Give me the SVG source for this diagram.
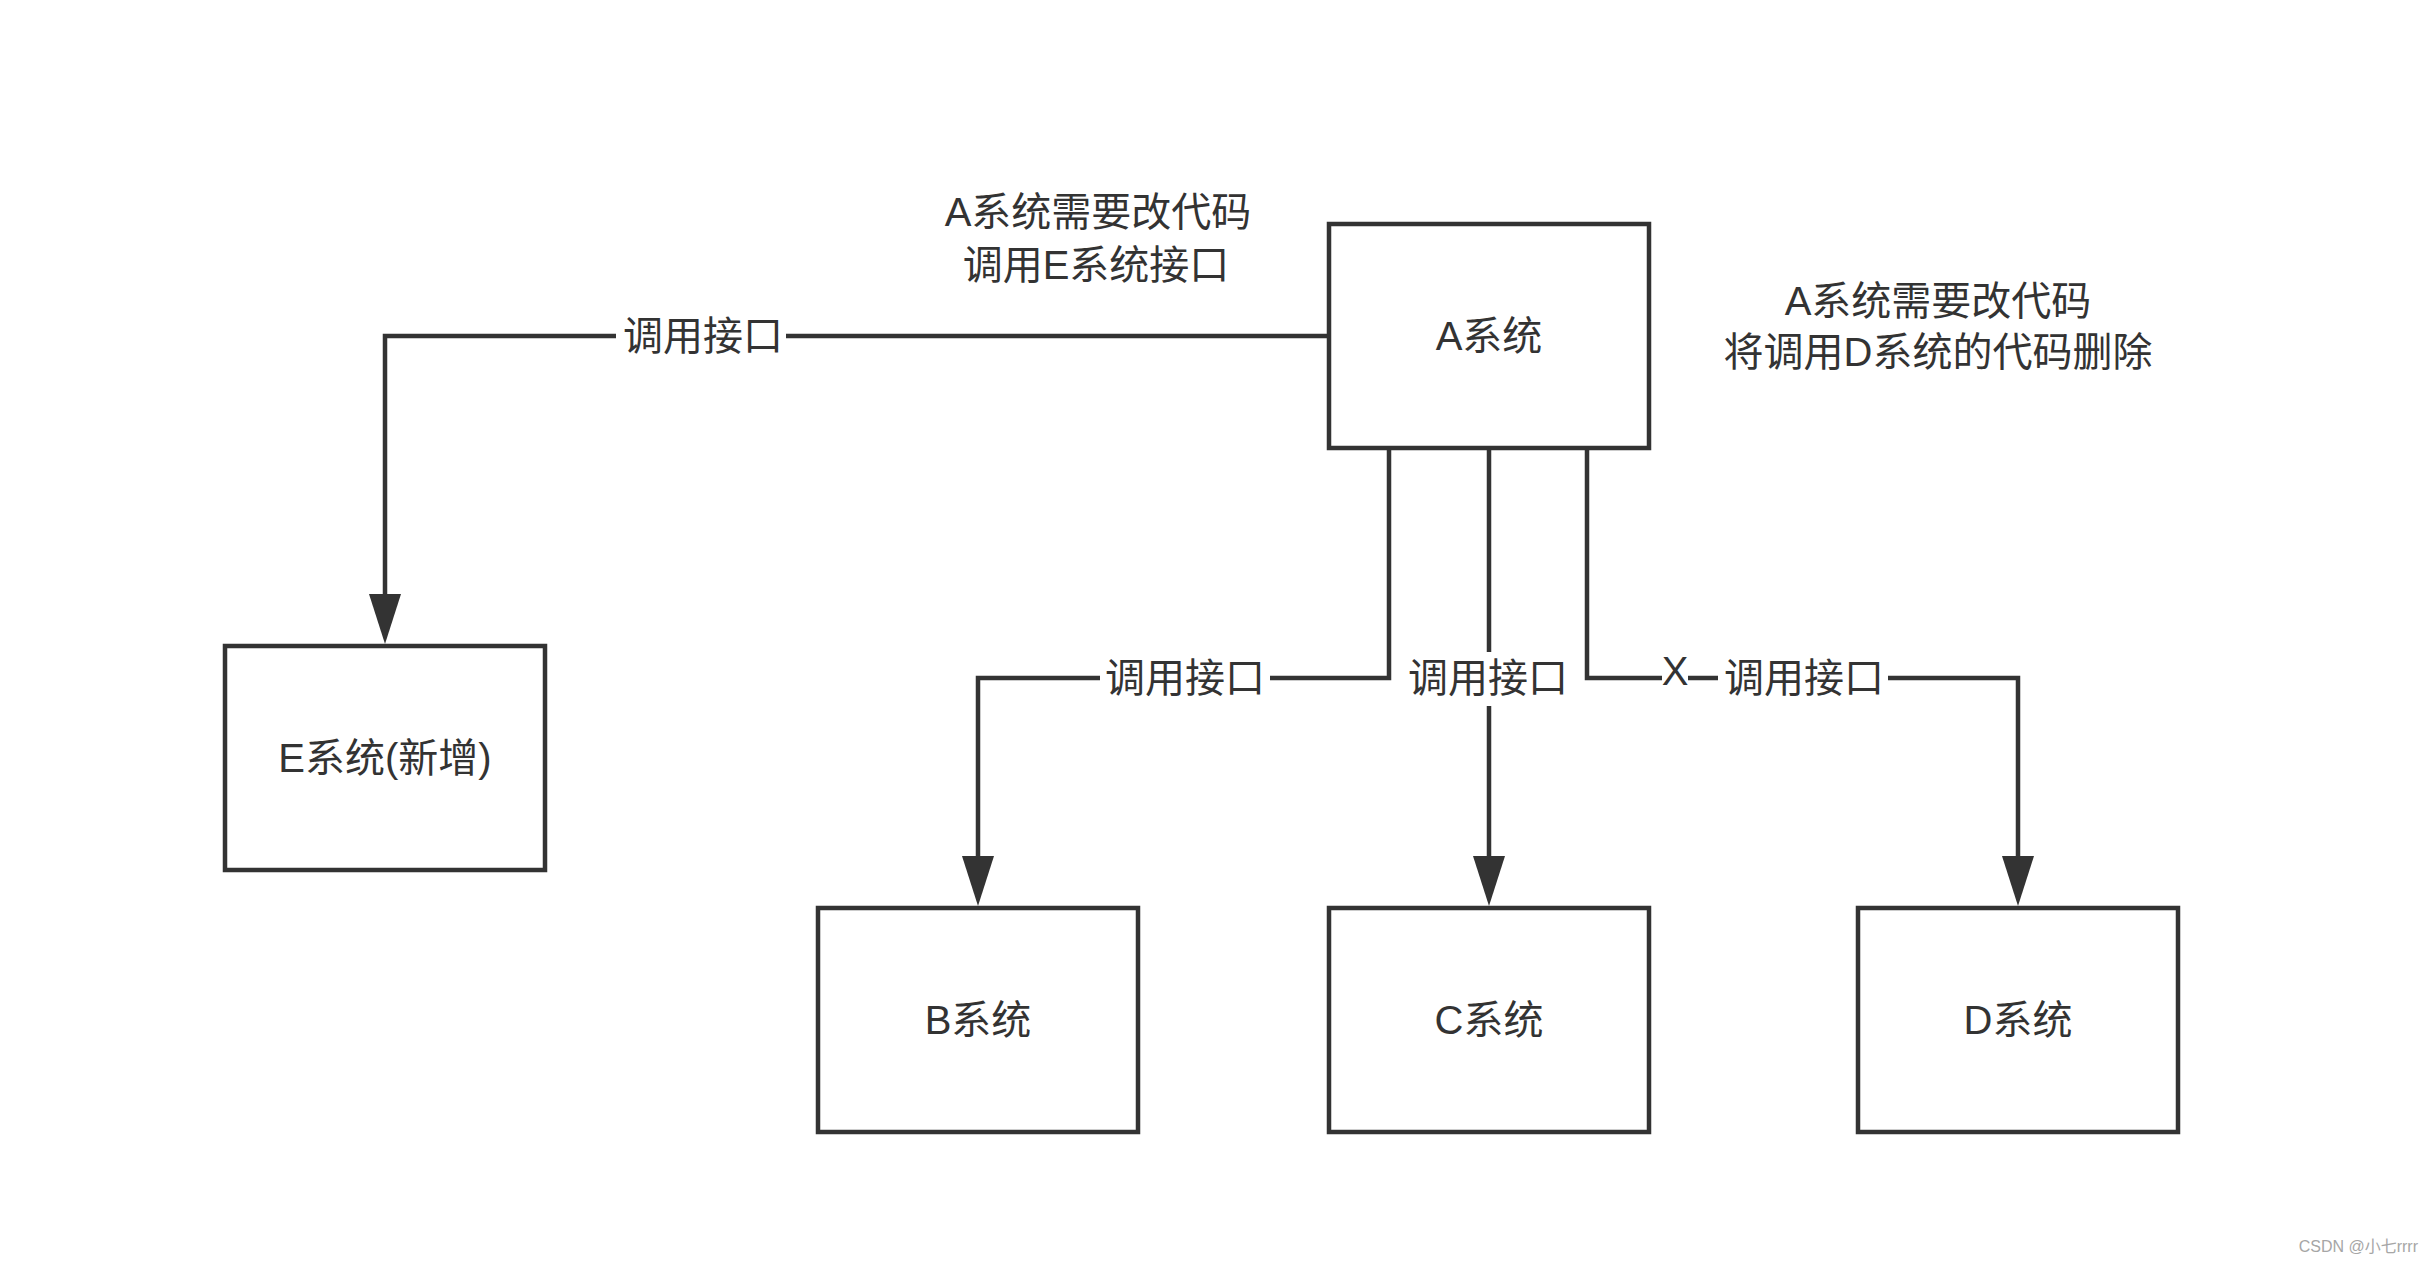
<svg xmlns="http://www.w3.org/2000/svg" width="2434" height="1265" viewBox="0 0 2434 1265">
  <style>
    .box { fill: #ffffff; stroke: #333333; stroke-width: 4.5; }
    .edge { fill: none; stroke: #333333; stroke-width: 4.5; }
    .t { font-family: "Liberation Sans", "Noto Sans CJK SC", sans-serif; font-size: 40px; fill: #333333; text-anchor: middle; }
    .lblbg { fill: #ffffff; }
    .wm { font-family: "Liberation Sans", "Noto Sans CJK SC", sans-serif; font-size: 16px; fill: #a6a6a6; text-anchor: end; }
  </style>
  <defs>
    <marker id="arrow" viewBox="0 0 50 32" refX="10" refY="16" markerWidth="50" markerHeight="32" markerUnits="userSpaceOnUse" orient="auto">
      <path d="M0,0 L50,16 L0,32 Z" fill="#333333"/>
    </marker>
  </defs>
  <rect width="2434" height="1265" fill="#ffffff"/>

  <g id="connectors">
    <path class="edge" d="M1329,336 L385,336 L385,604" marker-end="url(#arrow)"/>
    <path class="edge" d="M1389,449 L1389,678 L978,678 L978,866" marker-end="url(#arrow)"/>
    <path class="edge" d="M1489,449 L1489,866" marker-end="url(#arrow)"/>
    <path class="edge" d="M1587,449 L1587,678 L2018,678 L2018,866" marker-end="url(#arrow)"/>
    <g id="label-e">
      <rect class="lblbg" x="616" y="312" width="170" height="50"/>
      <text class="t" x="703" y="350">调用接口</text>
    </g>
    <g id="label-b">
      <rect class="lblbg" x="1100" y="654" width="170" height="50"/>
      <text class="t" x="1185" y="692">调用接口</text>
    </g>
    <g id="label-c">
      <rect class="lblbg" x="1403" y="652" width="170" height="54"/>
      <text class="t" x="1488" y="692">调用接口</text>
    </g>
    <g id="label-x">
      <rect class="lblbg" x="1662" y="656" width="26" height="30"/>
      <text class="t" x="1675" y="685">X</text>
    </g>
    <g id="label-d">
      <rect class="lblbg" x="1718" y="654" width="170" height="50"/>
      <text class="t" x="1804" y="692">调用接口</text>
    </g>
  </g>

  <g id="node-a">
    <rect class="box" x="1329" y="224" width="320" height="224"/>
    <text class="t" x="1489" y="350">A系统</text>
  </g>
  <g id="node-e">
    <rect class="box" x="225" y="646" width="320" height="224"/>
    <text class="t" x="385" y="772">E系统(新增)</text>
  </g>
  <g id="node-b">
    <rect class="box" x="818" y="908" width="320" height="224"/>
    <text class="t" x="978" y="1034">B系统</text>
  </g>
  <g id="node-c">
    <rect class="box" x="1329" y="908" width="320" height="224"/>
    <text class="t" x="1489" y="1034">C系统</text>
  </g>
  <g id="node-d">
    <rect class="box" x="1858" y="908" width="320" height="224"/>
    <text class="t" x="2018" y="1034">D系统</text>
  </g>

  <g id="note-left">
    <text class="t" x="1098" y="226">A系统需要改代码</text>
    <text class="t" x="1096" y="279">调用E系统接口</text>
  </g>
  <g id="note-right">
    <text class="t" x="1938" y="315">A系统需要改代码</text>
    <text class="t" x="1938" y="366">将调用D系统的代码删除</text>
  </g>

  <text class="wm" x="2418" y="1252">CSDN @小七rrrr</text>
</svg>
